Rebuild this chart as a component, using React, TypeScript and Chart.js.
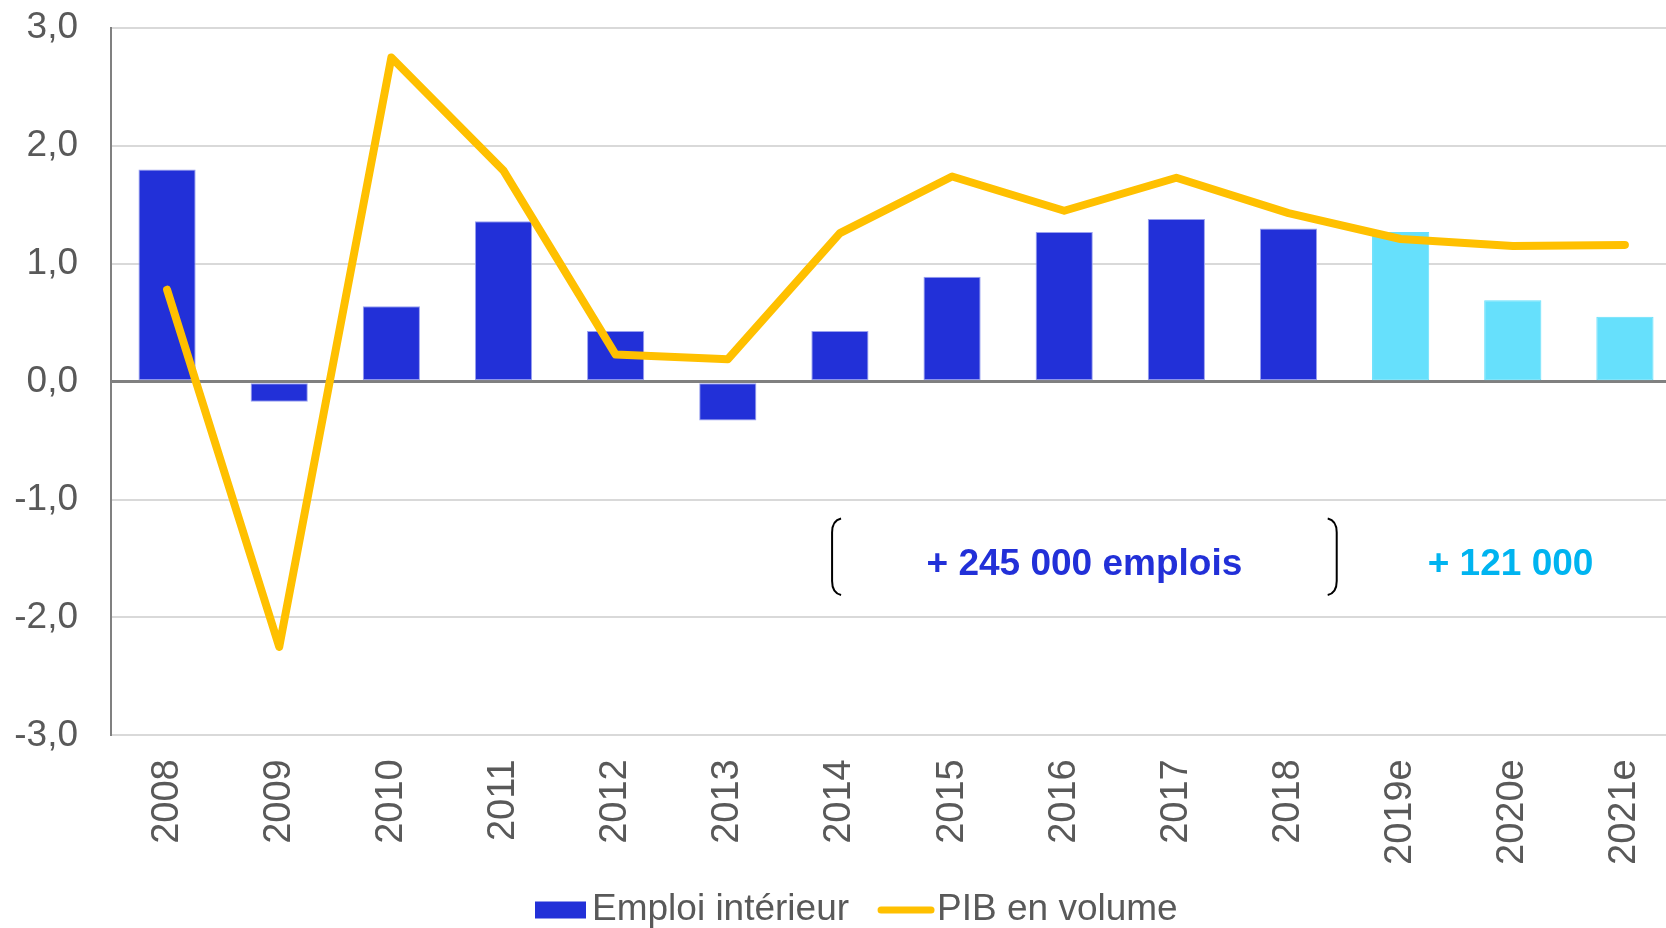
import React, { useEffect, useRef } from 'react';
import { Chart, registerables } from 'chart.js';

Chart.register(...registerables);

// ---- Data ----
const categories = ['2008', '2009', '2010', '2011', '2012', '2013', '2014', '2015', '2016', '2017', '2018', '2019e', '2020e', '2021e'];
const emploiInterieur = [1.80, -0.17, 0.64, 1.36, 0.43, -0.33, 0.43, 0.89, 1.27, 1.38, 1.30, 1.27, 0.69, 0.55];
const pibEnVolume = [0.78, -2.25, 2.75, 1.79, 0.23, 0.19, 1.26, 1.74, 1.45, 1.73, 1.43, 1.21, 1.15, 1.16];
const yTickValues = [-3, -2, -1, 0, 1, 2, 3];
const seriesLabels = ['Emploi intérieur', 'PIB en volume'];
const annotationTexts = ['+ 245 000 emplois', '+ 121 000'];

// ---- Styles ----
const BLUE = '#2230D8';
const CYAN = '#66E0FC';
const YELLOW = '#FFC000';
const TEXT = '#595959';
const FONT = '"Liberation Sans", Arial, sans-serif';

const isForecast = categories.map((c) => c.endsWith('e'));

const annotationPlugin = {
  id: 'annotations',
  afterDatasetsDraw(chart: any) {
    const { ctx } = chart;
    const x = chart.scales.x;
    const y = chart.scales.y;
    ctx.save();
    // brackets
    const top = y.getPixelForValue(-1.16);
    const bottom = y.getPixelForValue(-1.81);
    const lx = x.getPixelForValue(5.93);
    const rx = x.getPixelForValue(10.43);
    ctx.strokeStyle = '#000';
    ctx.lineWidth = 2;
    ctx.beginPath();
    ctx.moveTo(lx + 9, top);
    ctx.quadraticCurveTo(lx, top + 2, lx, top + 14);
    ctx.lineTo(lx, bottom - 14);
    ctx.quadraticCurveTo(lx, bottom - 2, lx + 9, bottom);
    ctx.stroke();
    ctx.beginPath();
    ctx.moveTo(rx - 9, top);
    ctx.quadraticCurveTo(rx, top + 2, rx, top + 14);
    ctx.lineTo(rx, bottom - 14);
    ctx.quadraticCurveTo(rx, bottom - 2, rx - 9, bottom);
    ctx.stroke();
    // texts
    ctx.font = `bold 37px ${FONT}`;
    ctx.textAlign = 'center';
    ctx.textBaseline = 'middle';
    ctx.fillStyle = BLUE;
    ctx.fillText(annotationTexts[0], x.getPixelForValue(8.18), y.getPixelForValue(-1.55));
    ctx.fillStyle = '#00B4F0';
    ctx.fillText(annotationTexts[1], x.getPixelForValue(11.98), y.getPixelForValue(-1.55));
    ctx.restore();
  },
};

const legendPlugin = {
  id: 'customLegend',
  afterDraw(chart: any) {
    const { ctx } = chart;
    ctx.save();
    const cy = 910;
    let cx = 535;
    ctx.font = `37px ${FONT}`;
    ctx.textBaseline = 'middle';
    ctx.textAlign = 'left';
    ctx.fillStyle = BLUE;
    ctx.fillRect(cx, cy - 8.5, 51, 17);
    cx += 51 + 6;
    ctx.fillStyle = TEXT;
    ctx.fillText(seriesLabels[0], cx, cy);
    cx += ctx.measureText(seriesLabels[0]).width + 29;
    ctx.strokeStyle = YELLOW;
    ctx.lineWidth = 7;
    ctx.lineCap = 'round';
    ctx.beginPath();
    ctx.moveTo(cx + 3, cy);
    ctx.lineTo(cx + 53, cy);
    ctx.stroke();
    cx += 59;
    ctx.fillStyle = TEXT;
    ctx.fillText(seriesLabels[1], cx, cy);
    ctx.restore();
  },
};

export default function App() {
  const ref = useRef<HTMLCanvasElement | null>(null);

  useEffect(() => {
    if (!ref.current) return;
    const chart = new Chart(ref.current, {
      type: 'bar',
      data: {
        labels: categories,
        datasets: [
          {
            type: 'line',
            label: seriesLabels[1],
            data: pibEnVolume,
            borderColor: YELLOW,
            backgroundColor: YELLOW,
            borderWidth: 8,
            pointRadius: 0,
            borderCapStyle: 'round',
            borderJoinStyle: 'round',
            tension: 0,
            order: 0,
          } as any,
          {
            type: 'bar',
            label: seriesLabels[0],
            data: emploiInterieur,
            backgroundColor: isForecast.map((f) => (f ? CYAN : BLUE)),
            borderColor: isForecast.map((f) => (f ? CYAN : '#9aa1ef')),
            borderWidth: 1,
            borderSkipped: false,
            categoryPercentage: 1,
            barPercentage: 0.51,
            order: 1,
          } as any,
        ],
      },
      options: {
        responsive: false,
        animation: false,
        layout: { padding: { top: 28, right: 19, bottom: 39, left: 0 } },
        plugins: {
          legend: { display: false },
          tooltip: { enabled: false },
        },
        scales: {
          x: {
            offset: true,
            grid: { display: false, drawTicks: false },
            border: { display: false },
            ticks: {
              minRotation: 90,
              maxRotation: 90,
              padding: 24,
              color: TEXT,
              font: { family: FONT, size: 38 },
              autoSkip: false,
            },
          },
          y: {
            min: yTickValues[0],
            max: yTickValues[yTickValues.length - 1],
            afterBuildTicks: (scale: any) => {
              scale.ticks = yTickValues.map((v) => ({ value: v }));
            },
            afterFit: (scale: any) => {
              scale.width = 111;
            },
            grid: {
              drawTicks: true,
              tickLength: 28,
              tickColor: 'rgba(0,0,0,0)',
              color: (c: any) => (c.tick && c.tick.value === 0 ? '#808080' : '#d9d9d9'),
              lineWidth: (c: any) => (c.tick && c.tick.value === 0 ? 3 : 2),
            },
            border: { display: true, color: '#808080', width: 2 },
            ticks: {
              padding: 5,
              color: TEXT,
              font: { family: FONT, size: 37 },
              callback: (v: any) => Number(v).toFixed(1).replace('.', ','),
            },
          },
        },
      },
      plugins: [annotationPlugin, legendPlugin],
    });
    return () => chart.destroy();
  }, []);

  return (
    <div style={{ position: 'absolute', left: 0, top: 0, width: 1666, height: 928, overflow: 'hidden', background: '#fff' }}>
      <canvas ref={ref} width={1700} height={928} style={{ display: 'block' }} />
    </div>
  );
}
